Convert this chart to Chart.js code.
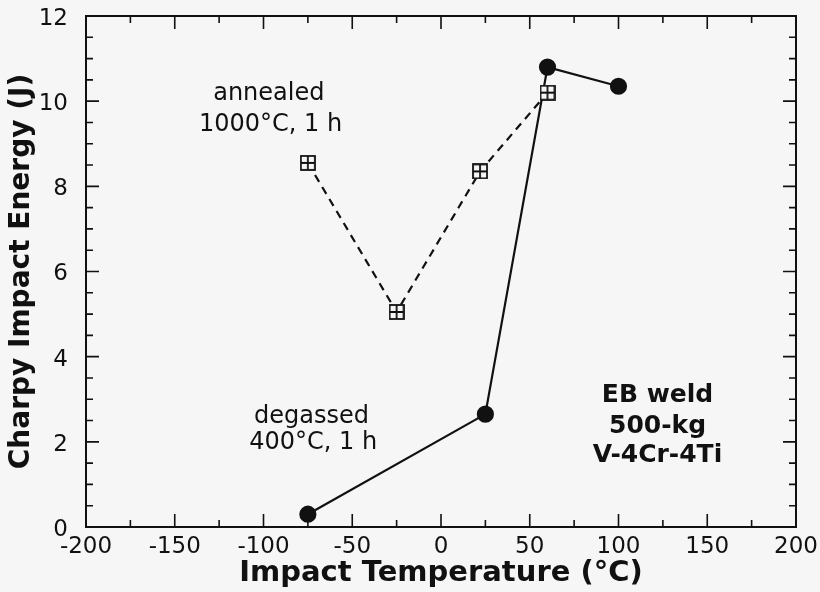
<!DOCTYPE html>
<html>
<head>
<meta charset="utf-8">
<script src="https://cdn.jsdelivr.net/npm/chart.js@4"></script>
<style>
  body { margin: 0; background: #f6f6f6; }
</style>
</head>
<body>
<canvas id="chart" width="820" height="592"></canvas>
<script>
// annealed 1000°C, 1 h (open squares, dashed)
const annealedTemp = [-75, -25, 22, 60];
const annealedEnergy = [8.55, 5.05, 8.35, 10.2];
// degassed 400°C, 1 h (filled circles, solid)
const degassedTemp = [-75, 25, 60, 100];
const degassedEnergy = [0.3, 2.65, 10.8, 10.35];

const xTicks = [-200, -150, -100, -50, 0, 50, 100, 150, 200];
const yTicks = [0, 2, 4, 6, 8, 10, 12];

const notes = [
  { x: -97, y: 10.17, text: 'annealed', bold: false },
  { x: -96, y: 9.44, text: '1000°C, 1 h', bold: false },
  { x: -73, y: 2.6, text: 'degassed', bold: false },
  { x: -72, y: 1.98, text: '400°C, 1 h', bold: false },
  { x: 122, y: 3.08, text: 'EB weld', bold: true },
  { x: 122, y: 2.37, text: '500-kg', bold: true },
  { x: 122, y: 1.67, text: 'V-4Cr-4Ti', bold: true }
];

const BG = '#f6f6f6';
const INK = '#111';

function boxCross(size) {
  const c = document.createElement('canvas');
  c.width = c.height = size;
  const g = c.getContext('2d');
  g.fillStyle = BG;
  g.fillRect(1, 1, size - 2, size - 2);
  g.strokeStyle = INK;
  g.lineWidth = 1.8;
  g.strokeRect(1, 1, size - 2, size - 2);
  g.beginPath();
  g.moveTo(size / 2, 1); g.lineTo(size / 2, size - 1);
  g.moveTo(1, size / 2); g.lineTo(size - 1, size / 2);
  g.stroke();
  return c;
}

const toPoints = (xs, ys) => xs.map((v, i) => ({ x: v, y: ys[i] }));

const background = {
  id: 'background',
  beforeDraw(chart) {
    const ctx = chart.ctx;
    ctx.save();
    ctx.fillStyle = BG;
    ctx.fillRect(0, 0, chart.width, chart.height);
    ctx.restore();
  }
};

// frame with inward ticks on all four sides
const frame = {
  id: 'frame',
  beforeDatasetsDraw(chart) {
    const { ctx, chartArea: a, scales: { x, y } } = chart;
    ctx.save();
    ctx.strokeStyle = INK;
    ctx.lineWidth = 2;
    ctx.strokeRect(a.left, a.top, a.right - a.left, a.bottom - a.top);
    ctx.lineWidth = 1.6;
    ctx.beginPath();
    for (let v = xTicks[0]; v <= xTicks[xTicks.length - 1]; v += 25) {
      const px = x.getPixelForValue(v);
      const len = xTicks.includes(v) ? 13 : 7;
      ctx.moveTo(px, a.bottom); ctx.lineTo(px, a.bottom - len);
      ctx.moveTo(px, a.top); ctx.lineTo(px, a.top + len);
    }
    for (let v = yTicks[0]; v <= yTicks[yTicks.length - 1]; v += 0.5) {
      const py = y.getPixelForValue(v);
      const len = yTicks.includes(v) ? 13 : 7;
      ctx.moveTo(a.left, py); ctx.lineTo(a.left + len, py);
      ctx.moveTo(a.right, py); ctx.lineTo(a.right - len, py);
    }
    ctx.stroke();
    ctx.restore();
  }
};

const labels = {
  id: 'labels',
  afterDraw(chart) {
    const { ctx, scales: { x, y } } = chart;
    ctx.save();
    ctx.fillStyle = INK;
    ctx.textAlign = 'center';
    ctx.textBaseline = 'middle';
    notes.forEach(n => {
      ctx.font = n.bold ? 'bold 25px "DejaVu Sans"' : '24px "DejaVu Sans"';
      ctx.fillText(n.text, x.getPixelForValue(n.x), y.getPixelForValue(n.y));
    });
    ctx.restore();
  }
};

new Chart(document.getElementById('chart'), {
  type: 'scatter',
  data: {
    datasets: [{
      label: 'annealed 1000°C, 1 h',
      data: toPoints(annealedTemp, annealedEnergy),
      showLine: true,
      borderColor: INK,
      borderWidth: 2.2,
      borderDash: [8, 6],
      pointStyle: boxCross(16),
      pointRadius: 8
    }, {
      label: 'degassed 400°C, 1 h',
      data: toPoints(degassedTemp, degassedEnergy),
      showLine: true,
      borderColor: INK,
      borderWidth: 2.2,
      pointStyle: 'circle',
      pointRadius: 7.5,
      pointBackgroundColor: INK,
      pointBorderColor: INK
    }]
  },
  options: {
    responsive: false,
    animation: false,
    clip: false,
    layout: { padding: { top: 16, right: 24, bottom: 0, left: 0 } },
    plugins: {
      legend: { display: false },
      tooltip: { enabled: false }
    },
    scales: {
      x: {
        type: 'linear',
        min: -200,
        max: 200,
        afterBuildTicks: s => { s.ticks = xTicks.map(v => ({ value: v })); },
        afterFit: s => { s.height = 65; s.paddingLeft = 0; s.paddingRight = 0; },
        grid: { display: false },
        border: { display: false },
        ticks: {
          color: INK,
          font: { family: 'DejaVu Sans', size: 23 },
          padding: -2,
          maxRotation: 0,
          autoSkip: false
        },
        title: {
          display: true,
          text: 'Impact Temperature (°C)',
          color: INK,
          font: { family: 'DejaVu Sans', size: 29, weight: 'bold' },
          padding: { top: 0, bottom: 1 }
        }
      },
      y: {
        type: 'linear',
        min: 0,
        max: 12,
        afterBuildTicks: s => { s.ticks = yTicks.map(v => ({ value: v })); },
        afterFit: s => { s.width = 86; s.paddingTop = 0; s.paddingBottom = 0; },
        grid: { display: false },
        border: { display: false },
        ticks: {
          color: INK,
          font: { family: 'DejaVu Sans', size: 23 },
          padding: 10,
          labelOffset: 3
        },
        title: {
          display: true,
          text: 'Charpy Impact Energy (J)',
          color: INK,
          font: { family: 'DejaVu Sans', size: 28, weight: 'bold' },
          padding: { top: 5, bottom: 0 }
        }
      }
    }
  },
  plugins: [background, frame, labels]
});
</script>
</body>
</html>
